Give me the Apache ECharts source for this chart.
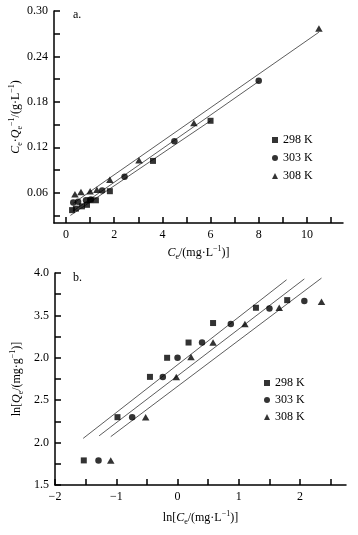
<!DOCTYPE html>
<html>
<head>
<meta charset="utf-8">
<script src="https://cdn.jsdelivr.net/npm/echarts@6/dist/echarts.min.js"></script>
<style>
html,body{margin:0;padding:0;background:#fff;}
#c{width:358px;height:535px;}
</style>
</head>
<body>
<div id="c"></div>
<script>
// ---------- Chart a: Ce/Qe vs Ce ----------
const seriesNames = ['298 K', '303 K', '308 K'];

const aX298 = [0.25, 0.41, 0.66, 0.87, 1.0, 1.24, 1.82, 3.61, 6.0];
const aY298 = [0.037, 0.039, 0.042, 0.044, 0.050, 0.050, 0.062, 0.102, 0.155];
const aX303 = [0.3, 0.5, 0.83, 1.03, 1.5, 2.43, 4.5, 8.0];
const aY303 = [0.047, 0.048, 0.050, 0.051, 0.063, 0.081, 0.128, 0.208];
const aX308 = [0.37, 0.62, 1.0, 1.28, 1.82, 3.03, 5.31, 10.5];
const aY308 = [0.058, 0.061, 0.062, 0.064, 0.077, 0.103, 0.152, 0.277];

const aFitX298 = [0.18, 6.0];   const aFitY298 = [0.030, 0.155];
const aFitX303 = [0.3, 8.0];    const aFitY303 = [0.036, 0.207];
const aFitX308 = [0.3, 10.5];   const aFitY308 = [0.046, 0.272];

const aXLabelVals = [0, 2, 4, 6, 8, 10];
const aXLabelText = ['0', '2', '4', '6', '8', '10'];
const aXTickVals = [0, 1, 2, 3, 4, 5, 6, 7, 8, 9, 10, 11];
const aYLabelVals = [0.06, 0.12, 0.18, 0.24, 0.30];
const aYLabelText = ['0.06', '0.12', '0.18', '0.24', '0.30'];
const aYTickVals = [0.03, 0.06, 0.09, 0.12, 0.15, 0.18, 0.21, 0.24, 0.27, 0.30];

// ---------- Chart b: ln Qe vs ln Ce ----------
const bX298 = [-1.53, -0.98, -0.45, -0.17, 0.18, 0.58, 1.28, 1.79];
const bY298 = [1.79, 2.30, 2.775, 3.0, 3.18, 3.41, 3.59, 3.68];
const bX303 = [-1.29, -0.74, -0.24, 0.0, 0.40, 0.87, 1.50, 2.07];
const bY303 = [1.79, 2.30, 2.775, 3.0, 3.18, 3.40, 3.58, 3.67];
const bX308 = [-1.09, -0.52, -0.02, 0.22, 0.58, 1.10, 1.66, 2.35];
const bY308 = [1.79, 2.30, 2.775, 3.01, 3.18, 3.40, 3.59, 3.66];

const bFitX298 = [-1.54, 1.78]; const bFitY298 = [2.05, 3.92];
const bFitX303 = [-1.28, 2.07]; const bFitY303 = [2.08, 3.93];
const bFitX308 = [-1.09, 2.35]; const bFitY308 = [2.07, 3.94];

const bXLabelVals = [-2, -1, 0, 1, 2];
const bXLabelText = ['\u22122', '\u22121', '0', '1', '2'];
const bXTickVals = [-2, -1.5, -1, -0.5, 0, 0.5, 1, 1.5, 2, 2.5];
const bYLabelVals = [1.5, 2.0, 2.5, 3.0, 3.5, 4.0];
const bYLabelText = ['1.5', '2.0', '2.5', '2.0', '3.5', '4.0'];
const bYTickVals = [1.5, 1.75, 2.0, 2.25, 2.5, 2.75, 3.0, 3.25, 3.5, 3.75, 4.0];

// ---------- helpers ----------
const FONT = "'Liberation Serif', 'Times New Roman', serif";
const zip = (xs, ys) => xs.map((x, i) => [x, ys[i]]);
const fmt = (vals, texts) => (v) => {
  const i = vals.findIndex(x => Math.abs(x - v) < 1e-9);
  return i >= 0 ? texts[i] : '';
};
const rich = {
  n: { fontSize: 12, fontFamily: FONT, color: '#000', lineHeight: 16, verticalAlign: 'middle' },
  i: { fontSize: 12, fontFamily: FONT, color: '#000', fontStyle: 'italic', lineHeight: 16, verticalAlign: 'middle' },
  s: { fontSize: 8, fontFamily: FONT, color: '#000', lineHeight: 8, verticalAlign: 'bottom' },
  p: { fontSize: 8, fontFamily: FONT, color: '#000', lineHeight: 8, verticalAlign: 'top' }
};
const symbols = ['rect', 'circle', 'triangle'];
const symSizes = [6, 6.5, [7.5, 6.5]];

function axisCommon(labelVals, labelText, tickVals) {
  return {
    axisLine: { show: true, onZero: false, lineStyle: { color: '#000', width: 1.5 } },
    axisTick: { show: true, inside: true, length: 6, customValues: tickVals, lineStyle: { color: '#000', width: 1.5 } },
    axisLabel: { customValues: labelVals, formatter: fmt(labelVals, labelText), color: '#000', fontFamily: FONT, fontSize: 12, margin: 6 },
    splitLine: { show: false },
    nameMoveOverlap: false,
    nameTextStyle: { rich: rich }
  };
}

const scatter = (name, xs, ys, k, idx) => ({
  type: 'scatter', name: name, xAxisIndex: idx, yAxisIndex: idx,
  symbol: symbols[k], symbolSize: symSizes[k],
  itemStyle: { color: '#000' }, z: 3,
  data: zip(xs, ys)
});
const fit = (name, xs, ys, idx) => ({
  type: 'line', name: name, xAxisIndex: idx, yAxisIndex: idx,
  showSymbol: false, symbol: 'none', silent: true,
  lineStyle: { color: '#333', width: 0.8 }, z: 2,
  data: zip(xs, ys)
});

const chart = echarts.init(document.getElementById('c'), null, { renderer: 'canvas' });
const option = {
  animation: false,
  backgroundColor: '#fff',
  textStyle: { fontFamily: FONT, color: '#000' },
  grid: [
    { left: 54, right: 15, top: 11, height: 212, containLabel: false, outerBoundsMode: 'none' },
    { left: 55, right: 12, top: 273, height: 212, containLabel: false, outerBoundsMode: 'none' }
  ],
  xAxis: [
    Object.assign(axisCommon(aXLabelVals, aXLabelText, aXTickVals), {
      type: 'value', gridIndex: 0, min: -0.5, max: 11.5,
      name: '{i|C}{s|e}{n|/(mg\u00b7L}{p|\u22121}{n|)]}',
      nameLocation: 'middle', nameGap: 22
    }),
    Object.assign(axisCommon(bXLabelVals, bXLabelText, bXTickVals), {
      type: 'value', gridIndex: 1, min: -2, max: 2.75,
      name: '{n|ln[}{i|C}{s|e}{n|/(mg\u00b7L}{p|\u22121}{n|)]}',
      nameLocation: 'middle', nameGap: 25
    })
  ],
  yAxis: [
    Object.assign(axisCommon(aYLabelVals, aYLabelText, aYTickVals), {
      type: 'value', gridIndex: 0, min: 0.02, max: 0.30,
      name: '{i|C}{s|e}{n|\u00b7}{i|Q}{s|e}{p|\u22121}{n|/(g\u00b7L}{p|\u22121}{n|)}',
      nameLocation: 'middle', nameGap: 30
    }),
    Object.assign(axisCommon(bYLabelVals, bYLabelText, bYTickVals), {
      type: 'value', gridIndex: 1, min: 1.5, max: 4.0,
      name: '{n|ln[}{i|Q}{s|e}{n|/(mg\u00b7g}{p|\u22121}{n|)]}',
      nameLocation: 'middle', nameGap: 30
    })
  ],
  legend: [
    { data: seriesNames, orient: 'vertical', left: 267, top: 129, itemWidth: 6, itemHeight: 6, itemGap: 6,
      selectedMode: false, textStyle: { fontFamily: FONT, fontSize: 12, color: '#000' } },
    { data: seriesNames, orient: 'vertical', left: 259, top: 372, itemWidth: 6, itemHeight: 6, itemGap: 5,
      selectedMode: false, textStyle: { fontFamily: FONT, fontSize: 12, color: '#000' } }
  ],
  graphic: [
    { type: 'text', left: 73, top: 9, style: { text: 'a.', font: "12px 'Liberation Serif', serif", fill: '#000' } },
    { type: 'text', left: 73, top: 272, style: { text: 'b.', font: "12px 'Liberation Serif', serif", fill: '#000' } }
  ],
  series: [
    fit('fitA298', aFitX298, aFitY298, 0),
    fit('fitA303', aFitX303, aFitY303, 0),
    fit('fitA308', aFitX308, aFitY308, 0),
    scatter(seriesNames[0], aX298, aY298, 0, 0),
    scatter(seriesNames[1], aX303, aY303, 1, 0),
    scatter(seriesNames[2], aX308, aY308, 2, 0),
    fit('fitB298', bFitX298, bFitY298, 1),
    fit('fitB303', bFitX303, bFitY303, 1),
    fit('fitB308', bFitX308, bFitY308, 1),
    scatter(seriesNames[0], bX298, bY298, 0, 1),
    scatter(seriesNames[1], bX303, bY303, 1, 1),
    scatter(seriesNames[2], bX308, bY308, 2, 1)
  ]
};
chart.setOption(option);
</script>
</body>
</html>
